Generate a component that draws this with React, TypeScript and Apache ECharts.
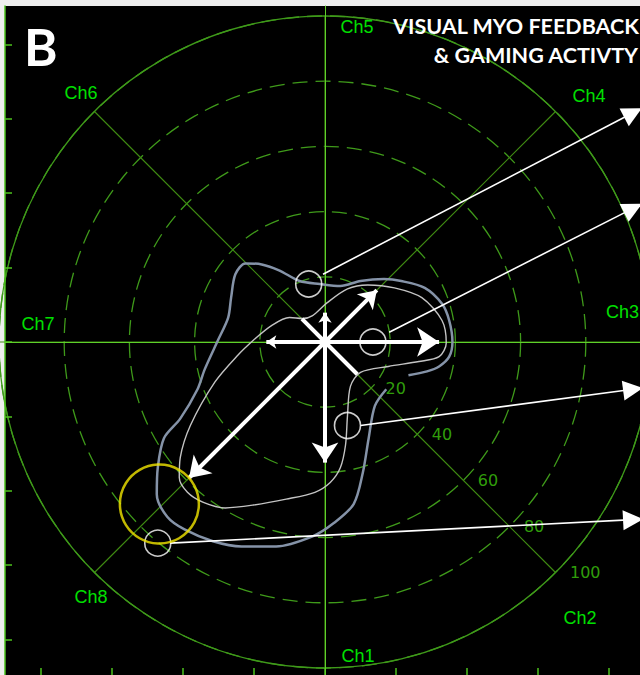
import React, { useEffect, useRef } from "react";
import * as echarts from "echarts";

// ---- data (chart units: ring percentage, x to the right, y upwards) ----
const channels = ["Ch1", "Ch2", "Ch3", "Ch4", "Ch5", "Ch6", "Ch7", "Ch8"];
const channelAngles = [270, 315, 0, 45, 90, 135, 180, 225];
const arrowLengths = [37, 14, 35, 22.5, 9, 10, 18, 59];
const arrowHeadSizes = [20, 0, 22, 17, 10, 0, 10, 20];
const ringValues = [20, 40, 60, 80, 100];
const frameTicks = [-4, -3, -2, -1, 0, 1, 2, 3, 4];

const outerCurve = [
  [25.6, -10.2], [31.3, -9.0], [35.0, -7.5], [38.1, -4.5], [39.1, 0], [38.1, 6.6],
  [35.9, 11.7], [30.6, 16.6], [23.4, 18.7], [18.1, 19.3], [10.9, 18.7], [4.7, 17.2],
  [-1.6, 17.8], [-7.8, 18.7], [-14.1, 22.0], [-19.4, 23.8], [-24.4, 24.1], [-27.5, 20.8],
  [-28.8, 13.6], [-29.7, 7.5], [-32.8, 0.6], [-36.9, -8.4], [-39.1, -14.5], [-44.4, -23.5],
  [-49.4, -29.5], [-51.3, -38.6], [-51.6, -46.7], [-48.4, -53.6], [-43.1, -57.5],
  [-34.4, -61.1], [-25.6, -62.7], [-15.0, -62.7], [-3.8, -59.6], [2.5, -55.7],
  [8.8, -49.7], [11.6, -40.1], [13.4, -29.5], [15.3, -19.6], [18.8, -14.5],
];

const innerCurve = [
  [-21.9, 0.6], [-16.3, 5.1], [-10.9, 7.5], [-6.9, 7.2], [-3.8, 8.1], [0.6, 12.0],
  [6.9, 16.3], [13.1, 17.5], [21.3, 16.6], [29.7, 13.6], [35.9, 6.6], [37.2, -0.3],
  [35.0, -4.5], [28.8, -6.0], [19.4, -7.5], [10.9, -9.3], [7.8, -13.6], [6.9, -22.6],
  [6.3, -31.6], [4.7, -38.6], [1.6, -43.1], [-3.1, -46.1], [-11.9, -48.2], [-21.9, -50.0],
  [-30.6, -50.9], [-37.5, -49.1], [-42.2, -46.1], [-44.7, -41.6], [-44.4, -35.5],
  [-41.3, -25.6], [-33.8, -12.3], [-26.6, -3.9], [-21.9, 0.6],
];

const markerCircles = [[-5, 17.8], [14.7, 0], [6.9, -25.6], [-51.3, -61.7]];
const highlightCircle = [[-50.8, -49.7]];
const calloutStarts = [[-0.6, 20.8], [19.7, 3.0], [10.9, -25.6], [-47.5, -61.7]];
const calloutEnds = [[94.5, 70.3], [94.5, 41.0], [94.5, -14.5], [94.5, -54.5]];

// ---- styles ----
const ringColor = "#3f9a1a";
const spokeColor = "#3f8a12";
const crossColor = "#5fd02a";
const frameColor = "#4cc21c";
const chLabelColor = "#00e000";
const ringLabelColor = "#3ec80e";

export default function App() {
  const ref = useRef<HTMLDivElement>(null);

  useEffect(() => {
    document.body.style.margin = "0";
    if (!ref.current) return;
    const chart = echarts.init(ref.current, null, { renderer: "svg" });

    const rad = (d: number) => (d * Math.PI) / 180;

    const spokes = channels.map((name, i) => {
      const a = rad(channelAngles[i]);
      const len = arrowLengths[i];
      const head = arrowHeadSizes[i];
      return {
        name,
        coords: [[0, 0], [len * Math.cos(a), len * Math.sin(a)]],
        symbol: ["none", head > 0 ? "arrow" : "none"],
        symbolSize: [0, head],
      };
    });

    const callouts = calloutStarts.map((s, i) => ({ coords: [s, calloutEnds[i]] }));

    const ringLabelData = ringValues.map((v) => ({
      name: String(v),
      value: [v * Math.cos(rad(315)), v * Math.sin(rad(315))],
    }));

    const chText = (text: string, x: number, y: number, align = "center") => ({
      type: "text",
      x,
      y,
      z: 10,
      style: {
        text,
        fill: chLabelColor,
        font: '18px "Liberation Sans", Arial, sans-serif',
        align,
        textAlign: align,
        verticalAlign: "middle",
        textVerticalAlign: "middle",
      },
    });

    const titleText = (text: string, x: number, y: number) => ({
      type: "text",
      x,
      y,
      z: 10,
      style: {
        text,
        fill: "#ffffff",
        font: 'bold 21.5px Lato, "Open Sans", sans-serif',
        align: "right",
        textAlign: "right",
        verticalAlign: "middle",
        textVerticalAlign: "middle",
      },
    });

    const option: any = {
      animation: false,
      backgroundColor: "#eeeeee",
      grid: [
        { left: 5, top: 6, right: 0, bottom: 0, show: true, backgroundColor: "#000", borderWidth: 0 },
        { left: 5, right: 0, top: 16, height: 652 },
      ],
      xAxis: [
        {
          gridIndex: 0, type: "value", min: -4.507, max: 4.437, position: "bottom",
          axisLine: { show: false, onZero: false },
          axisTick: { show: true, inside: true, length: 7, customValues: frameTicks, lineStyle: { color: frameColor, width: 1.5 } },
          axisLabel: { show: false }, splitLine: { show: false },
        },
        {
          gridIndex: 0, type: "value", min: -4.507, max: 4.437, position: "top", z: 1,
          axisLine: { show: true, onZero: true, onZeroAxisIndex: 0, lineStyle: { color: crossColor, width: 1 } },
          axisTick: { show: false }, axisLabel: { show: false }, splitLine: { show: false },
        },
        { gridIndex: 1, type: "value", min: -98.16, max: 96.63, show: false },
      ],
      yAxis: [
        {
          gridIndex: 0, type: "value", min: -4.476, max: 4.516, position: "left",
          axisLine: { show: true, onZero: false, lineStyle: { color: frameColor, width: 1.5 } },
          axisTick: { show: true, inside: true, length: 7, customValues: frameTicks, lineStyle: { color: frameColor, width: 1.5 } },
          axisLabel: { show: false }, splitLine: { show: false },
        },
        {
          gridIndex: 0, type: "value", min: -4.476, max: 4.516, position: "right", z: 1,
          axisLine: { show: true, onZero: true, onZeroAxisIndex: 0, lineStyle: { color: crossColor, width: 1 } },
          axisTick: { show: false }, axisLabel: { show: false }, splitLine: { show: false },
        },
        { gridIndex: 1, type: "value", min: -100, max: 100, show: false },
      ],
      polar: { center: [325, 342], radius: 326 },
      angleAxis: {
        type: "value", min: 0, max: 360, interval: 45, startAngle: 0, clockwise: false,
        axisLine: { show: true, lineStyle: { color: ringColor, width: 1.3 } },
        axisTick: { show: false }, axisLabel: { show: false },
        splitLine: { show: true, lineStyle: { color: spokeColor, width: 1.2 } },
      },
      radiusAxis: {
        type: "value", min: 0, max: 100, interval: 20,
        axisLine: { show: false }, axisTick: { show: false }, axisLabel: { show: false },
        splitLine: { show: true, lineStyle: { color: ringColor, width: 1.3, type: [15, 8] } },
      },
      series: [
        {
          type: "scatter", xAxisIndex: 2, yAxisIndex: 2, data: ringLabelData,
          symbolSize: 1, itemStyle: { color: "rgba(0,0,0,0)" }, silent: true,
          label: {
            show: true, position: "right", distance: 14, formatter: "{b}",
            color: ringLabelColor, fontSize: 16, fontFamily: '"DejaVu Sans", Verdana, sans-serif',
          },
        },
        {
          type: "line", xAxisIndex: 2, yAxisIndex: 2, data: outerCurve, smooth: 0.3,
          showSymbol: false, lineStyle: { color: "#8593a8", width: 2.5 }, z: 3,
        },
        {
          type: "line", xAxisIndex: 2, yAxisIndex: 2, data: innerCurve, smooth: 0.3,
          showSymbol: false, lineStyle: { color: "#c4c4c4", width: 1.4 }, z: 3,
        },
        {
          type: "lines", coordinateSystem: "cartesian2d", xAxisIndex: 2, yAxisIndex: 2,
          data: spokes, symbol: ["none", "arrow"], symbolSize: [0, 20],
          lineStyle: { color: "#ffffff", width: 4, opacity: 1 }, z: 5,
        },
        {
          type: "lines", coordinateSystem: "cartesian2d", xAxisIndex: 2, yAxisIndex: 2,
          data: callouts, symbol: ["none", "triangle"], symbolSize: [0, 20],
          lineStyle: { color: "#ffffff", width: 1.6, opacity: 1 }, z: 5,
        },
        {
          type: "scatter", xAxisIndex: 2, yAxisIndex: 2, data: markerCircles,
          symbol: "circle", symbolSize: 26,
          itemStyle: { color: "rgba(0,0,0,0)", borderColor: "#ffffff", borderWidth: 1.6 }, z: 6,
        },
        {
          type: "scatter", xAxisIndex: 2, yAxisIndex: 2, data: highlightCircle,
          symbol: "circle", symbolSize: 79,
          itemStyle: { color: "rgba(0,0,0,0)", borderColor: "#f2e600", borderWidth: 2.5 }, z: 6,
        },
      ],
      graphic: [
        chText("Ch5", 357, 27),
        chText("Ch4", 589, 96),
        chText("Ch3", 639, 312, "right"),
        chText("Ch7", 38, 324),
        chText("Ch6", 81, 93),
        chText("Ch8", 91, 597),
        chText("Ch1", 358, 656),
        chText("Ch2", 580, 618),
        {
          type: "text", x: 24, y: 46, z: 10,
          style: {
            text: "B", fill: "#ffffff", font: 'bold 51px Lato, "Open Sans", sans-serif',
            align: "left", textAlign: "left", verticalAlign: "middle", textVerticalAlign: "middle",
          },
        },
        titleText("VISUAL MYO FEEDBACK", 639, 26),
        titleText("& GAMING ACTIVTY", 638, 55),
      ],
    };

    chart.setOption(option);
    return () => chart.dispose();
  }, []);

  return <div ref={ref} style={{ width: 640, height: 675 }} />;
}
